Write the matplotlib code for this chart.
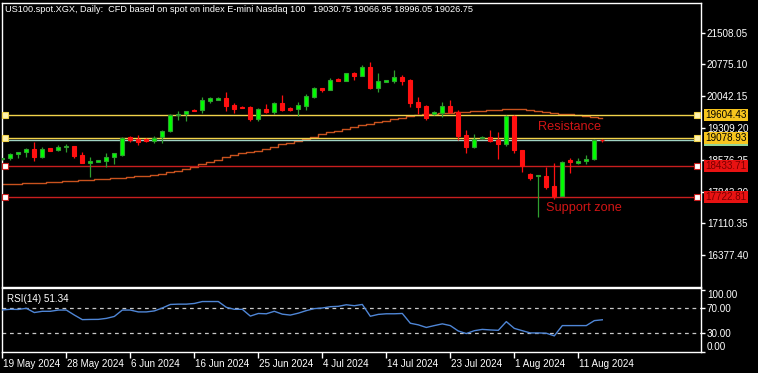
import matplotlib
matplotlib.use('Agg')
import matplotlib.pyplot as plt
import matplotlib.transforms as mtransforms

# ---------------- data ----------------
title_text = "US100.spot.XGX, Daily:  CFD based on spot on index E-mini Nasdaq 100   19030.75 19066.95 18996.05 19026.75"

opens = [18590, 18613, 18705, 18751, 18827, 18650, 18850, 18797, 18880, 18896,
         18696, 18512, 18535, 18558, 18636, 18689, 19097, 19066, 19050, 19018,
         19097, 19249, 19604, 19634, 19733, 19719, 19927, 19957, 20010, 19848,
         19802, 19802, 19526, 19757, 19687, 19888, 19780, 19742, 19825, 20026,
         20233, 20194, 20448, 20402, 20579, 20517, 20717, 20240, 20375, 20402,
         20487, 20425, 19911, 19818, 19634, 19664, 19818, 19673, 19150, 18880,
         19073, 19111, 19042, 18950, 19588, 18804, 18251, 18205, 18205, 17975,
         17750, 18580, 18512, 18550, 18590, 19030.75]
highs = [18625, 18729, 18751, 18850, 18989, 18866, 18855, 18913, 18943, 18900,
         18762, 18647, 18565, 18731, 18740, 19097, 19120, 19159, 19073, 19127,
         19265, 19627, 19710, 19700, 19740, 20019, 20026, 20035, 20148, 19880,
         19820, 19818, 19765, 19872, 19911, 20072, 19790, 19898, 20088, 20256,
         20240, 20457, 20455, 20580, 20610, 20763, 20840, 20572, 20425, 20648,
         20533, 20430, 20026, 19841, 19710, 19911, 19957, 19726, 19265, 19166,
         19120, 19265, 19219, 19604, 19604, 18810, 18280, 18235, 18420, 18497,
         18550, 18613, 18610, 18689, 19058, 19066.95]
lows = [18580, 18574, 18613, 18636, 18558, 18627, 18783, 18781, 18758, 18627,
        18497, 18189, 18530, 18400, 18488, 18673, 18989, 18915, 18990, 18958,
        18973, 19226, 19496, 19480, 19700, 19650, 19881, 19950, 19710, 19664,
        19760, 19480, 19480, 19650, 19641, 19703, 19710, 19595, 19719, 20010,
        20150, 20180, 20385, 20395, 20418, 20503, 20203, 20148, 20370, 20356,
        20302, 19802, 19634, 19496, 19618, 19565, 19650, 19035, 18742, 18857,
        19050, 18980, 18604, 18904, 18742, 18297, 18113, 17267, 17900, 17662,
        17735, 18280, 18490, 18480, 18574, 18996.05]
closes = [18610, 18706, 18751, 18827, 18650, 18820, 18788, 18866, 18900, 18673,
          18512, 18558, 18560, 18641, 18735, 19074, 19036, 18995, 19010, 19081,
          19249, 19611, 19641, 19696, 19710, 19950, 20003, 20010, 19825, 19749,
          19772, 19519, 19749, 19680, 19881, 19726, 19726, 19842, 20049, 20233,
          20180, 20418, 20395, 20572, 20510, 20710, 20240, 20395, 20418, 20487,
          20395, 19895, 19795, 19549, 19687, 19818, 19673, 19134, 18880, 19050,
          19097, 19019, 18950, 19588, 18804, 18435, 18159, 18228, 17957, 17750,
          18527, 18535, 18550, 18597, 19042, 19026.75]
ma_values = [18014, 18020, 18026, 18032, 18037, 18043, 18056, 18070, 18083, 18092,
             18101, 18112, 18122, 18133, 18146, 18159, 18176, 18193, 18210, 18228,
             18256, 18285, 18320, 18355, 18412, 18470, 18524, 18578, 18636, 18694,
             18722, 18751, 18783, 18816, 18872, 18929, 18969, 19009, 19061, 19113,
             19161, 19210, 19251, 19293, 19336, 19380, 19409, 19438, 19475, 19512,
             19550, 19588, 19605, 19623, 19634, 19646, 19660, 19673, 19682, 19692,
             19705, 19719, 19730, 19742, 19742, 19742, 19720, 19696, 19673, 19650,
             19636, 19623, 19600, 19577, 19563, 19549]
rsi_values = [67.2, 68.2, 68.0, 69.8, 63.0, 65.0, 65.0, 67.0, 67.0, 59.0,
              51.6, 51.9, 52.0, 53.6, 56.7, 67.0, 67.0, 64.0, 64.0, 65.6,
              70.3, 76.0, 76.5, 76.5, 77.6, 80.7, 80.7, 80.7, 71.4, 68.2,
              68.2, 57.3, 61.5, 61.0, 65.0, 60.4, 58.9, 62.0, 66.1, 69.3,
              70.3, 72.4, 73.0, 75.5, 74.0, 76.0, 57.0, 60.0, 61.0, 61.0,
              61.5, 45.8, 43.2, 39.0, 42.0, 44.8, 42.0, 33.3, 29.2, 33.8,
              35.9, 35.0, 34.4, 48.4, 37.5, 33.8, 30.2, 30.2, 29.7, 25.5,
              42.0, 42.0, 42.0, 42.0, 50.0, 51.34]

price_ticks = [21508.05, 20775.10, 20042.15, 19309.20, 18576.25, 17843.30, 17110.35, 16377.40]
date_labels = ["19 May 2024", "28 May 2024", "6 Jun 2024", "16 Jun 2024", "25 Jun 2024",
               "4 Jul 2024", "14 Jul 2024", "23 Jul 2024", "1 Aug 2024", "11 Aug 2024"]
date_label_bars = [0, 8, 16, 24, 32, 40, 48, 56, 64, 72]

resistance_levels = [19604.43, 19078.93]
support_levels = [18433.71, 17722.81]
bid_price = 19026.75
rsi_levels = [70, 30]
rsi_ticks = [100, 70, 30, 0]
rsi_tick_labels = ["100.00", "70.00", "30.00", "0.00"]
rsi_label = "RSI(14) 51.34"
resistance_text = ("Resistance", 67.0, 19330)
support_text = ("Support zone", 68.0, 17460)

# ---------------- style ----------------
FONT = ['Liberation Sans', 'DejaVu Sans']
plt.rcParams['font.family'] = FONT
FS = 7.1
W, H = 758, 373
fig = plt.figure(figsize=(W / 100, H / 100), dpi=100, facecolor='black')

def frac(x0, y0, x1, y1):
    return [x0 / W, 1 - y1 / H, (x1 - x0) / W, (y1 - y0) / H]

ax = fig.add_axes(frac(2, 2.7, 700.7, 286.5))
axr = fig.add_axes(frac(2, 288.3, 700.7, 351.7))

for a in (ax, axr):
    a.set_facecolor('black')
    for s in a.spines.values():
        s.set_color('white')
        s.set_linewidth(1.0)

n = len(closes)
xs = list(range(n))
xlim = (-0.04, 87.3)

# candles
BULL_FILL, BULL_EDGE = '#00ff00', '#2f9f2f'
BEAR_FILL, BEAR_EDGE = '#ff1010', '#ff1010'
for i in xs:
    o, h, l, c = opens[i], highs[i], lows[i], closes[i]
    bull = c >= o
    edge = BULL_EDGE if bull else BEAR_EDGE
    fill = BULL_FILL if bull else BEAR_FILL
    ax.vlines(i, l, h, color=edge, linewidth=0.9, zorder=3)
    bot = min(o, c)
    hgt = max(abs(c - o), 8)
    ax.bar(i, hgt, bottom=bot, width=0.5, color=fill, edgecolor=edge,
           linewidth=0.8, zorder=4)

# moving average
ax.plot(xs, ma_values, color='#c8521e', linewidth=1.0, drawstyle='steps-mid', zorder=2)

# horizontal levels
blend = mtransforms.blended_transform_factory(ax.transAxes, ax.transData)
ax.axhline(bid_price, color='#9fd3c4', linewidth=1.0, zorder=2)
for lv in resistance_levels:
    ax.axhline(lv, color='#f2d34a', linewidth=1.0, zorder=2.5)
    ax.plot([0.0047, 0.995], [lv, lv], transform=blend, linestyle='none', marker='s',
            markersize=4, markerfacecolor='#fff3b0', markeredgecolor='#f2d34a',
            markeredgewidth=0.8, zorder=5, clip_on=False)
for lv in support_levels:
    ax.axhline(lv, color='#c81e1e', linewidth=1.0, zorder=2.5)
    ax.plot([0.0047, 0.995], [lv, lv], transform=blend, linestyle='none', marker='s',
            markersize=4, markerfacecolor='white', markeredgecolor='#c81e1e',
            markeredgewidth=0.8, zorder=5, clip_on=False)

ax.set_xlim(*xlim)
ax.set_ylim(15653, 22200)
ax.set_xticks([])
ax.yaxis.tick_right()
ax.set_yticks(price_ticks)
ax.set_yticklabels([f"{v:.2f}" for v in price_ticks])
ax.tick_params(axis='y', colors='white', labelcolor='white', labelsize=FS,
               length=3, width=1, direction='out', pad=1.5)

# price label boxes on right axis
def price_box(level, face, tc, z=10):
    ax.text(1.0065, level, f"{level:.2f}", transform=blend, ha='left', va='center',
            fontsize=FS, color=tc, zorder=z, clip_on=False,
            bbox=dict(boxstyle='square,pad=0.12', facecolor=face, edgecolor='none'))

price_box(bid_price, '#8fd49a', '#8fd49a', z=9)
for lv in resistance_levels:
    price_box(lv, '#f7c51e', 'black')
for lv in support_levels:
    price_box(lv, '#e81212', '#7a0000')

# annotations
for txt, xi, yv in (resistance_text, support_text):
    ax.text(xi, yv, txt, color='#d01515', fontsize=9.2, ha='left', va='center', zorder=6)

fig.text(5 / W, 1 - 9 / H, title_text, color='white', fontsize=6.6, ha='left', va='center')

# RSI panel
axr.plot(xs, rsi_values, color='#4f86d6', linewidth=1.0, zorder=3)
for lv in rsi_levels:
    axr.axhline(lv, color='#c8c8c8', linewidth=0.9, linestyle=(0, (3, 3)), zorder=2)
axr.set_xlim(*xlim)
axr.set_ylim(0.6, 102)
axr.yaxis.tick_right()
axr.set_yticks(rsi_ticks)
axr.set_yticklabels(rsi_tick_labels)
axr.tick_params(axis='y', colors='white', labelcolor='white', labelsize=FS,
                length=3, width=1, direction='out', pad=1.5)
ylabs = axr.get_yticklabels()
ylabs[0].set_va('top')
ylabs[-1].set_va('bottom')
axr.set_xticks(date_label_bars)
axr.set_xticklabels(date_labels, ha='left')
axr.tick_params(axis='x', colors='white', labelcolor='white', labelsize=FS,
                length=4, width=1, direction='out', pad=1.5)
offset = mtransforms.ScaledTranslation(1 / 100, 0, fig.dpi_scale_trans)
for t in axr.get_xticklabels():
    t.set_transform(t.get_transform() + offset)
axr.text(5 / 698.7, 0.83, rsi_label, transform=axr.transAxes, color='white',
         fontsize=FS, ha='left', va='center')

fig.savefig('out.png', dpi=100, facecolor='black')
